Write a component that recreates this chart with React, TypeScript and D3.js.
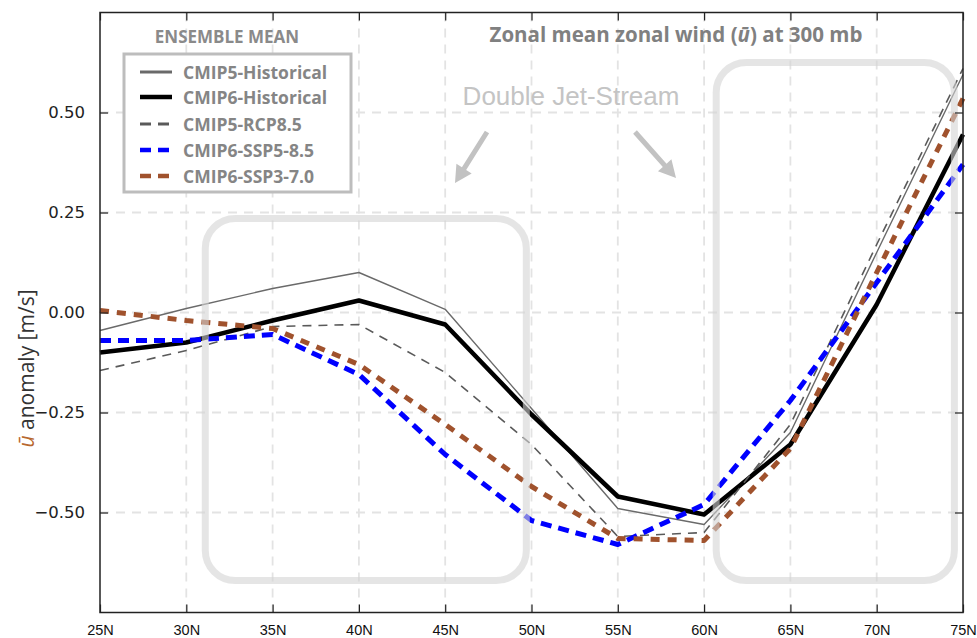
import React, { useEffect, useRef } from "react";
import * as d3 from "d3";

const latitudes = [25, 30, 35, 40, 45, 50, 55, 60, 65, 70, 75];
const yTicks = [0.5, 0.25, 0, -0.25, -0.5];

const cmip5Hist = [-0.045, 0.01, 0.06, 0.1, 0.008, -0.24, -0.49, -0.53, -0.3, 0.15, 0.595];
const cmip6Hist = [-0.1, -0.075, -0.02, 0.03, -0.03, -0.255, -0.46, -0.505, -0.33, 0.02, 0.445];
const cmip5Rcp = [-0.145, -0.095, -0.035, -0.03, -0.15, -0.33, -0.56, -0.55, -0.28, 0.17, 0.61];
const cmip6Ssp585 = [-0.07, -0.07, -0.055, -0.155, -0.355, -0.52, -0.58, -0.48, -0.22, 0.075, 0.37];
const cmip6Ssp370 = [0.005, -0.02, -0.04, -0.13, -0.28, -0.435, -0.565, -0.57, -0.34, 0.1, 0.535];

const seriesNames = ["CMIP5-Historical", "CMIP6-Historical", "CMIP5-RCP8.5", "CMIP6-SSP5-8.5", "CMIP6-SSP3-7.0"];

const Chart = () => {
  const svgRef = useRef<SVGSVGElement>(null);

  useEffect(() => {
    const svg = d3.select(svgRef.current);
    svg.selectAll("*").remove();

    const W = 977;
    const H = 638;
    const margin = { top: 12.5, right: 14, bottom: 25.5, left: 100 };
    svg.attr("width", W).attr("height", H);

    const x = d3.scaleLinear().domain([25, 75]).range([margin.left, W - margin.right]);
    const y = d3.scaleLinear().domain([-0.75, 0.75]).range([H - margin.bottom, margin.top]);

    const series = [
      { name: seriesNames[0], values: cmip5Hist, color: "#6a6a6a", width: 1.4, dash: null },
      { name: seriesNames[1], values: cmip6Hist, color: "#000", width: 4.5, dash: null },
      { name: seriesNames[2], values: cmip5Rcp, color: "#5a5a5a", width: 1.6, dash: "9,7" },
      { name: seriesNames[3], values: cmip6Ssp585, color: "#0000ff", width: 5, dash: "11,7" },
      { name: seriesNames[4], values: cmip6Ssp370, color: "#a0522d", width: 5, dash: "9,8" },
    ];

    // grid
    const grid = svg.append("g");
    grid
      .selectAll("line.vg")
      .data(latitudes.slice(1, -1))
      .enter()
      .append("line")
      .attr("x1", (d) => x(d))
      .attr("x2", (d) => x(d))
      .attr("y1", y(0.75))
      .attr("y2", y(-0.75))
      .attr("stroke", "#e3e3e3")
      .attr("stroke-width", 1.8)
      .attr("stroke-dasharray", "9,7");
    grid
      .selectAll("line.hg")
      .data(yTicks)
      .enter()
      .append("line")
      .attr("x1", x(25))
      .attr("x2", x(75))
      .attr("y1", (d) => y(d))
      .attr("y2", (d) => y(d))
      .attr("stroke", "#e3e3e3")
      .attr("stroke-width", 1.8)
      .attr("stroke-dasharray", "9,7");

    // lines
    const line = d3
      .line<number>()
      .x((d, i) => x(latitudes[i]))
      .y((d) => y(d));

    svg
      .append("g")
      .selectAll("path")
      .data(series)
      .enter()
      .append("path")
      .attr("d", (d) => line(d.values))
      .attr("fill", "none")
      .attr("stroke", (d) => d.color)
      .attr("stroke-width", (d) => d.width)
      .attr("stroke-dasharray", (d) => d.dash)
      .attr("stroke-linejoin", "round");

    // highlight boxes
    const boxes = [
      { x0: 31.1, x1: 49.7, y0: 0.235, y1: -0.67 },
      { x0: 60.7, x1: 74.5, y0: 0.625, y1: -0.67 },
    ];
    svg
      .append("g")
      .selectAll("rect")
      .data(boxes)
      .enter()
      .append("rect")
      .attr("x", (d) => x(d.x0))
      .attr("y", (d) => y(d.y0))
      .attr("width", (d) => x(d.x1) - x(d.x0))
      .attr("height", (d) => y(d.y1) - y(d.y0))
      .attr("rx", 30)
      .attr("fill", "none")
      .attr("stroke", "#d4d4d4")
      .attr("stroke-opacity", 0.6)
      .attr("stroke-width", 7);

    // annotation text + arrows
    svg
      .append("text")
      .attr("x", 571)
      .attr("y", 105)
      .attr("text-anchor", "middle")
      .attr("font-family", "Liberation Sans, Arial, sans-serif")
      .attr("font-size", 26)
      .attr("fill", "#c4c4c4")
      .text("Double Jet-Stream");

    const arrows = [
      [487, 132, 455, 183],
      [635, 132, 676, 178],
    ];
    const arrowPath = (a: number[]) => {
      const [x1, y1, x2, y2] = a;
      const ang = Math.atan2(y2 - y1, x2 - x1);
      const len = Math.hypot(x2 - x1, y2 - y1);
      const head = 17;
      const hw = 9;
      const sw = 2.5;
      const p = d3.path();
      const pts: [number, number][] = [
        [0, -sw],
        [len - head, -sw],
        [len - head, -hw],
        [len, 0],
        [len - head, hw],
        [len - head, sw],
        [0, sw],
      ];
      pts.forEach(([u, v], i) => {
        const px = x1 + u * Math.cos(ang) - v * Math.sin(ang);
        const py = y1 + u * Math.sin(ang) + v * Math.cos(ang);
        if (i === 0) p.moveTo(px, py);
        else p.lineTo(px, py);
      });
      p.closePath();
      return p.toString();
    };
    svg
      .append("g")
      .selectAll("path")
      .data(arrows)
      .enter()
      .append("path")
      .attr("d", (d) => arrowPath(d))
      .attr("fill", "#c2c2c2");

    // title
    const title = svg
      .append("text")
      .attr("x", 676)
      .attr("y", 42)
      .attr("text-anchor", "middle")
      .attr("font-family", "Open Sans, sans-serif")
      .attr("font-weight", "bold")
      .attr("font-size", 20.5)
      .attr("fill", "#808080");
    title.append("tspan").text("Zonal mean zonal wind (");
    title.append("tspan").attr("font-style", "italic").text("ū");
    title.append("tspan").text(") at 300 mb");

    svg
      .append("text")
      .attr("x", 227)
      .attr("y", 43)
      .attr("text-anchor", "middle")
      .attr("font-family", "Open Sans, sans-serif")
      .attr("font-weight", "bold")
      .attr("font-size", 17)
      .attr("fill", "#8a8a8a")
      .text("ENSEMBLE MEAN");

    // legend
    const legend = svg.append("g");
    legend
      .append("rect")
      .attr("x", 124)
      .attr("y", 54)
      .attr("width", 227)
      .attr("height", 138)
      .attr("fill", "#fff")
      .attr("stroke", "#bdbdbd")
      .attr("stroke-width", 3);

    const legendY = [72, 97, 124, 150, 176];
    const items = legend
      .selectAll("g.item")
      .data(series)
      .enter()
      .append("g")
      .attr("transform", (d, i) => `translate(0,${legendY[i]})`);
    items
      .append("line")
      .attr("x1", 140)
      .attr("x2", 172)
      .attr("y1", 0)
      .attr("y2", 0)
      .attr("stroke", (d) => d.color)
      .attr("stroke-width", (d, i) => (i === 0 ? 3 : i === 2 ? 3 : 4.5))
      .attr("stroke-dasharray", (d) => (d.dash ? "11,7" : null));
    items
      .append("text")
      .attr("x", 183)
      .attr("y", 6.5)
      .attr("font-family", "Open Sans, sans-serif")
      .attr("font-weight", "bold")
      .attr("font-size", 17.5)
      .attr("fill", "#858585")
      .text((d) => d.name);

    // frame
    svg
      .append("rect")
      .attr("x", x(25))
      .attr("y", y(0.75))
      .attr("width", x(75) - x(25))
      .attr("height", y(-0.75) - y(0.75))
      .attr("fill", "none")
      .attr("stroke", "#222")
      .attr("stroke-width", 1.5);

    // axes with inward ticks
    const fmtLat = (d: number) => `${d}N`;
    const bottom = svg
      .append("g")
      .attr("transform", `translate(0,${y(-0.75)})`)
      .call(d3.axisBottom(x).tickValues(latitudes).tickSizeInner(-8).tickSizeOuter(0).tickPadding(12).tickFormat(fmtLat as any));
    bottom.select(".domain").remove();
    bottom
      .selectAll("text")
      .attr("font-family", "Liberation Sans Narrow, Liberation Sans, sans-serif")
      .attr("font-size", 14.5)
      .attr("fill", "#111");

    const top = svg
      .append("g")
      .attr("transform", `translate(0,${y(0.75)})`)
      .call(d3.axisTop(x).tickValues(latitudes).tickSizeInner(-8).tickSizeOuter(0).tickFormat(() => ""));
    top.select(".domain").remove();

    const fmtY = (d: number) => d3.format(".2f")(d).replace("-", "−");
    const left = svg
      .append("g")
      .attr("transform", `translate(${x(25)},0)`)
      .call(d3.axisLeft(y).tickValues(yTicks).tickSizeInner(-8).tickSizeOuter(0).tickPadding(15).tickFormat(fmtY as any));
    left.select(".domain").remove();
    left
      .selectAll("text")
      .attr("font-family", "DejaVu Sans, sans-serif")
      .attr("font-size", 16.5)
      .attr("fill", "#222");

    const right = svg
      .append("g")
      .attr("transform", `translate(${x(75)},0)`)
      .call(d3.axisRight(y).tickValues(yTicks).tickSizeInner(-8).tickSizeOuter(0).tickFormat(() => ""));
    right.select(".domain").remove();

    svg.selectAll(".tick line").attr("stroke", "#222").attr("stroke-width", 1.2);

    // y label
    const yl = svg
      .append("text")
      .attr("transform", `translate(34,${y(-0.14)}) rotate(-90)`)
      .attr("text-anchor", "middle")
      .attr("font-family", "Open Sans, sans-serif")
      .attr("font-size", 21)
      .attr("fill", "#333");
    yl.append("tspan").attr("font-style", "italic").attr("fill", "#b8682e").text("ū");
    yl.append("tspan").text(" anomaly [m/s]");
  }, []);

  return (
    <div style={{ position: "fixed", left: 0, top: 0, background: "#fff" }}>
      <svg ref={svgRef}></svg>
    </div>
  );
};

export default function App() {
  return <Chart />;
}
